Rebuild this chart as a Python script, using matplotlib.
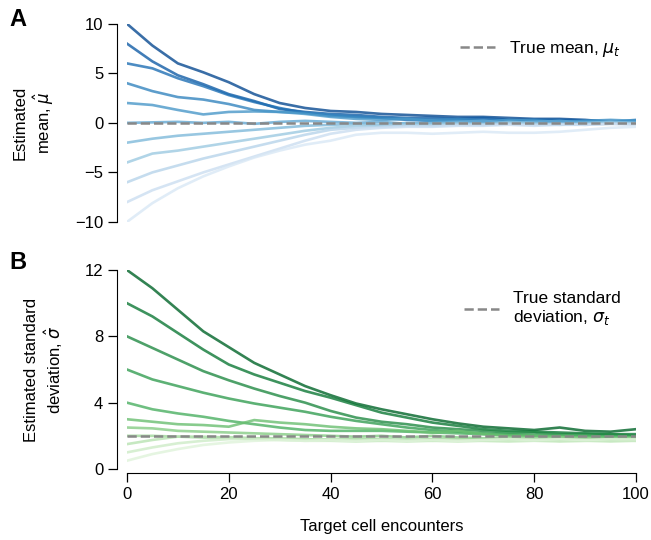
import numpy as np
import matplotlib
matplotlib.use("Agg")
import matplotlib.pyplot as plt

plt.rcParams['font.family'] = ['Liberation Sans', 'DejaVu Sans']
plt.rcParams['mathtext.fontset'] = 'dejavusans'

# encounters sampled every 5
enc = [0, 5, 10, 15, 20, 25, 30, 35, 40, 45, 50, 55, 60, 65, 70, 75, 80, 85, 90, 95, 100]

# panel A: estimated mean, one list per starting guess
mean_lines = {
    10: [10, 7.8, 6.0, 5.1, 4.1, 2.9, 2.0, 1.5, 1.2, 1.1, 0.9, 0.8, 0.7, 0.6, 0.6, 0.5, 0.4, 0.4, 0.3, 0.1, 0.2],
    8: [8, 6.2, 4.8, 3.9, 2.9, 2.2, 1.4, 1.1, 0.9, 0.8, 0.6, 0.5, 0.5, 0.4, 0.5, 0.3, 0.3, 0.3, 0.2, 0.2, 0.1],
    6: [6, 5.5, 4.5, 3.7, 2.8, 2.1, 1.5, 1.0, 0.7, 0.6, 0.5, 0.3, 0.2, 0.3, 0.3, 0.2, 0.1, 0.2, 0.1, 0.0, 0.2],
    4: [4, 3.2, 2.6, 2.35, 1.9, 1.3, 1.1, 1.0, 0.8, 0.6, 0.5, 0.4, 0.3, 0.4, 0.2, 0.2, 0.3, 0.1, 0.2, 0.1, 0.3],
    2: [2, 1.8, 1.3, 0.85, 1.1, 1.15, 1.1, 0.9, 0.6, 0.4, 0.3, 0.4, 0.2, 0.2, 0.1, 0.3, 0.2, 0.0, 0.2, 0.3, 0.2],
    0: [0, 0.05, 0.1, 0.0, 0.1, -0.1, 0.1, 0.2, 0.1, 0.0, 0.1, -0.1, 0.0, 0.1, 0.2, 0.0, 0.1, 0.2, 0.0, 0.1, 0.0],
    -2: [-2, -1.6, -1.3, -1.1, -0.9, -0.7, -0.5, -0.3, -0.2, -0.1, -0.2, 0.0, -0.1, 0.0, -0.1, 0.1, 0.0, -0.1, 0.0, 0.1, 0.0],
    -4: [-4, -3.1, -2.8, -2.4, -2.0, -1.6, -1.2, -0.8, -0.5, -0.3, -0.3, -0.2, -0.2, -0.1, -0.2, 0.0, -0.1, -0.2, -0.1, 0.0, -0.1],
    -6: [-6, -5.0, -4.3, -3.6, -3.0, -2.4, -1.8, -1.2, -0.7, -0.5, -0.4, -0.3, -0.3, -0.2, -0.2, -0.1, -0.2, -0.1, -0.2, -0.1, -0.1],
    -8: [-8, -6.8, -5.9, -5.0, -4.2, -3.4, -2.6, -1.8, -1.1, -0.7, -0.5, -0.4, -0.4, -0.3, -0.3, -0.2, -0.3, -0.2, -0.2, -0.1, -0.2],
    -10: [-10, -8.1, -6.6, -5.4, -4.4, -3.5, -2.8, -2.2, -1.8, -1.2, -1.0, -1.0, -1.1, -1.0, -0.9, -1.0, -1.0, -0.9, -0.7, -0.5, -0.4],
}
true_mean = 0

# panel B: estimated standard deviation
sd_lines = {
    12: [12, 10.9, 9.6, 8.3, 7.35, 6.4, 5.7, 5.0, 4.45, 3.95, 3.6, 3.3, 3.0, 2.75, 2.55, 2.45, 2.35, 2.5, 2.3, 2.25, 2.4],
    10: [10, 9.2, 8.2, 7.2, 6.3, 5.7, 5.2, 4.7, 4.3, 3.85, 3.4, 3.1, 2.8, 2.6, 2.4, 2.3, 2.25, 2.2, 2.15, 2.1, 2.1],
    8: [8, 7.3, 6.6, 5.9, 5.35, 4.85, 4.4, 4.0, 3.5, 3.1, 2.85, 2.7, 2.5, 2.4, 2.3, 2.2, 2.2, 2.1, 2.1, 2.1, 2.0],
    6: [6, 5.4, 5.0, 4.6, 4.25, 3.95, 3.7, 3.45, 3.15, 2.9, 2.7, 2.5, 2.35, 2.25, 2.15, 2.1, 2.05, 2.0, 2.0, 1.95, 1.95],
    4: [4, 3.6, 3.35, 3.15, 2.9, 2.7, 2.5, 2.35, 2.3, 2.3, 2.3, 2.25, 2.2, 2.15, 2.1, 2.05, 2.0, 2.0, 2.0, 1.95, 1.9],
    3: [3.0, 2.85, 2.7, 2.65, 2.55, 2.95, 2.8, 2.7, 2.55, 2.45, 2.4, 2.3, 2.2, 2.3, 2.1, 2.0, 2.0, 1.95, 1.9, 1.9, 1.9],
    2.5: [2.5, 2.45, 2.3, 2.25, 2.2, 2.15, 2.1, 2.05, 2.0, 1.95, 2.0, 1.9, 2.0, 1.9, 1.85, 1.9, 1.85, 1.9, 1.85, 1.8, 1.85],
    2: [2.0, 2.0, 1.95, 1.9, 1.9, 1.85, 1.85, 1.8, 1.75, 1.8, 1.8, 1.75, 1.8, 1.8, 1.75, 1.8, 1.75, 1.7, 1.75, 1.7, 1.75],
    1.5: [1.5, 1.75, 1.95, 1.95, 1.9, 1.85, 1.8, 1.75, 1.8, 1.75, 1.7, 1.75, 1.7, 1.75, 1.7, 1.7, 1.75, 1.7, 1.7, 1.75, 1.7],
    1: [1.0, 1.3, 1.55, 1.7, 1.8, 1.8, 1.75, 1.7, 1.7, 1.65, 1.7, 1.65, 1.7, 1.65, 1.7, 1.65, 1.7, 1.65, 1.7, 1.65, 1.7],
    0.5: [0.5, 0.9, 1.2, 1.45, 1.6, 1.7, 1.75, 1.7, 1.75, 1.7, 1.75, 1.7, 1.75, 1.7, 1.75, 1.8, 1.75, 1.8, 1.75, 1.8, 1.8],
}
true_sd = 2

fig = plt.figure(figsize=(6.51, 5.4), dpi=100)
axA = fig.add_axes([0.195, 0.589, 0.782, 0.367])
axB = fig.add_axes([0.195, 0.1315, 0.782, 0.3685])

blues = plt.cm.Blues(np.linspace(0.9, 0.15, len(mean_lines)))
for c, (k, v) in zip(blues, mean_lines.items()):
    axA.plot(enc, v, color=c, lw=1.9, alpha=0.8)
axA.plot([0, 100], [true_mean, true_mean], ls='--', color='#888888', lw=1.8,
         label='True mean, $\\mu_t$', zorder=5)

greens = plt.cm.Greens(np.linspace(0.9, 0.15, len(sd_lines)))
for c, (k, v) in zip(greens, sd_lines.items()):
    axB.plot(enc, v, color=c, lw=1.9, alpha=0.8)
axB.plot([0, 100], [true_sd, true_sd], ls='--', color='#888888', lw=1.8,
         label='True standard\ndeviation, $\\sigma_t$', zorder=5)

for ax in (axA, axB):
    ax.set_xlim(0, 100)
    ax.spines['top'].set_visible(False)
    ax.spines['right'].set_visible(False)
    ax.spines['left'].set_position(('outward', 7))
    ax.tick_params(labelsize=12, length=6.5, width=0.9)

axA.legend(loc='upper right', frameon=False, fontsize=12.5, handlelength=2,
           bbox_to_anchor=(1.0, 1.0))
axB.legend(loc='upper right', frameon=False, fontsize=12.5, handlelength=2,
           bbox_to_anchor=(1.0, 0.975))

axA.set_ylim(-10, 10)
axA.set_yticks([-10, -5, 0, 5, 10])
axA.set_yticklabels(['\u221210', '\u22125', '0', '5', '10'])
axA.spines['bottom'].set_visible(False)
axA.set_xticks([])
axA.set_ylabel('Estimated\nmean, $\\hat{\\mu}$', fontsize=12, labelpad=14)

axB.set_ylim(0, 12)
axB.set_yticks([0, 4, 8, 12])
axB.set_xticks([0, 20, 40, 60, 80, 100])
axB.spines['bottom'].set_position(('outward', 3))
axB.set_xlabel('Target cell encounters', fontsize=12, labelpad=12)
axB.set_ylabel('Estimated standard\ndeviation, $\\hat{\\sigma}$', fontsize=12, labelpad=14)

fig.text(0.015, 0.985, 'A', fontsize=17, fontweight='bold', va='top')
fig.text(0.015, 0.535, 'B', fontsize=17, fontweight='bold', va='top')

fig.savefig('out.png', dpi=100)
